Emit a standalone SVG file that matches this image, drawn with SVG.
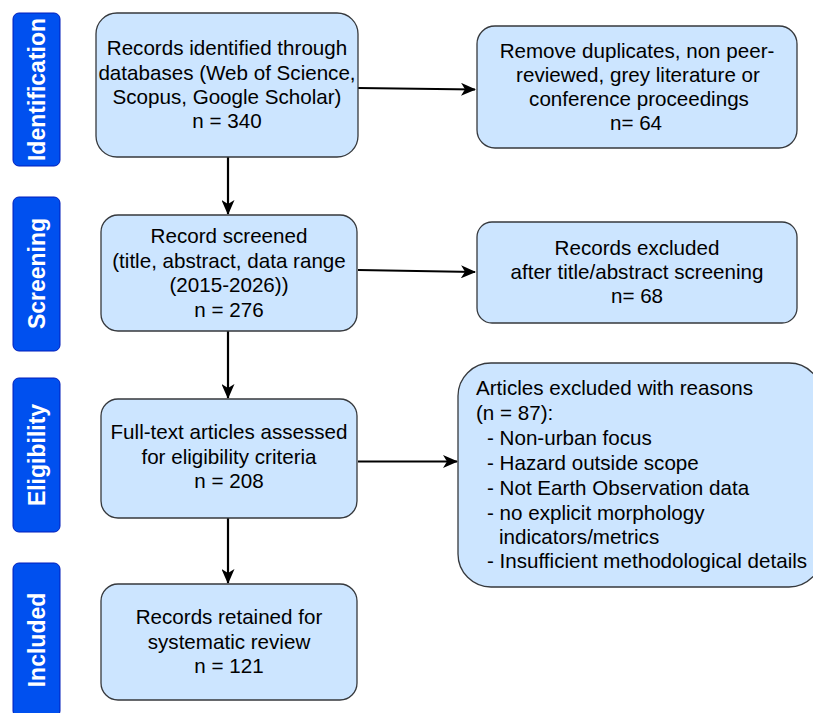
<svg xmlns="http://www.w3.org/2000/svg" width="813" height="713" viewBox="0 0 813 713">
<defs>
<style>
.lbl{fill:#0050ef;stroke:#001dbc;stroke-width:1}
.lt{fill:#ffffff;font-family:"Liberation Sans",Arial,sans-serif;font-weight:bold;font-size:23px;text-anchor:middle}
.box{fill:#cce5ff;stroke:#36393d;stroke-width:1.3}
.t{fill:#000000;font-family:"Liberation Sans",Arial,sans-serif;font-size:20.6px;text-anchor:middle}
.tl{fill:#000000;font-family:"Liberation Sans",Arial,sans-serif;font-size:20.6px}
.edge{stroke:#000000;stroke-width:2.2;fill:none;marker-end:url(#arr)}
</style>
<marker id="arr" viewBox="0 0 15 13" refX="14" refY="6.5" markerWidth="15" markerHeight="13" markerUnits="userSpaceOnUse" orient="auto">
<path d="M0,0 L15,6.5 L0,13 L4,6.5 Z" fill="#000000"/>
</marker>
</defs>
<g id="lbl-identification"><rect class="lbl" x="13" y="13" width="47" height="153" rx="6"/><text class="lt" transform="translate(44.5,89.5) rotate(-90)">Identification</text></g>
<g id="lbl-screening"><rect class="lbl" x="13" y="197" width="47" height="154" rx="6"/><text class="lt" transform="translate(44.5,273.5) rotate(-90)">Screening</text></g>
<g id="lbl-eligibility"><rect class="lbl" x="13" y="378" width="47" height="154" rx="6"/><text class="lt" transform="translate(44.5,455) rotate(-90)">Eligibility</text></g>
<g id="lbl-included"><rect class="lbl" x="13" y="563" width="47" height="154" rx="6"/><text class="lt" transform="translate(44.5,640) rotate(-90)">Included</text></g>

<g id="connectors">
<path class="edge" d="M358,88 L475,89.5"/>
<path class="edge" d="M228,157 L228,214"/>
<path class="edge" d="M358,270 L475,272"/>
<path class="edge" d="M228,331 L228,398"/>
<path class="edge" d="M358,461.5 L457,461.5"/>
<path class="edge" d="M228,515 L228,583"/>
</g>

<g id="n-identified"><rect class="box" x="96" y="13" width="262" height="144" rx="21"/>
<text class="t" x="227" y="55">Records identified through</text>
<text class="t" x="227" y="79.5">databases (Web of Science,</text>
<text class="t" x="227" y="103.5">Scopus, Google Scholar)</text>
<text class="t" x="227" y="128">n = 340</text></g>

<g id="n-duplicates"><rect class="box" x="477" y="26" width="320" height="122" rx="18"/>
<text class="t" x="637" y="57.5">Remove duplicates, non peer-</text>
<text class="t" x="638" y="82">reviewed, grey literature or</text>
<text class="t" x="639" y="106">conference proceedings</text>
<text class="t" x="636" y="130">n= 64</text></g>

<g id="n-screened"><rect class="box" x="101" y="215" width="256" height="116" rx="17"/>
<text class="t" x="229" y="243">Record screened</text>
<text class="t" x="229" y="267.5">(title, abstract, data range</text>
<text class="t" x="229" y="292">(2015-2026))</text>
<text class="t" x="229" y="316.5">n = 276</text></g>

<g id="n-excluded1"><rect class="box" x="477" y="222" width="320" height="101" rx="15"/>
<text class="t" x="637" y="254.5">Records excluded</text>
<text class="t" x="637" y="278.5">after title/abstract screening</text>
<text class="t" x="637" y="302.5">n= 68</text></g>

<g id="n-fulltext"><rect class="box" x="101" y="399" width="256" height="119" rx="17"/>
<text class="t" x="229" y="439">Full-text articles assessed</text>
<text class="t" x="229" y="463.5">for eligibility criteria</text>
<text class="t" x="229" y="488">n = 208</text></g>

<g id="n-excluded2"><rect class="box" x="458" y="363" width="364" height="224" rx="33"/>
<text class="tl" x="476" y="395">Articles excluded with reasons</text>
<text class="tl" x="476" y="420">(n = 87):</text>
<text class="tl" x="487" y="445">- Non-urban focus</text>
<text class="tl" x="487" y="470">- Hazard outside scope</text>
<text class="tl" x="487" y="495">- Not Earth Observation data</text>
<text class="tl" x="487" y="519.5">- no explicit morphology</text>
<text class="tl" x="499" y="544">indicators/metrics</text>
<text class="tl" x="487" y="568">- Insufficient methodological details</text></g>

<g id="n-included"><rect class="box" x="101" y="584" width="256" height="116" rx="17"/>
<text class="t" x="229" y="624">Records retained for</text>
<text class="t" x="229" y="648.5">systematic review</text>
<text class="t" x="229" y="673">n = 121</text></g>
</svg>
